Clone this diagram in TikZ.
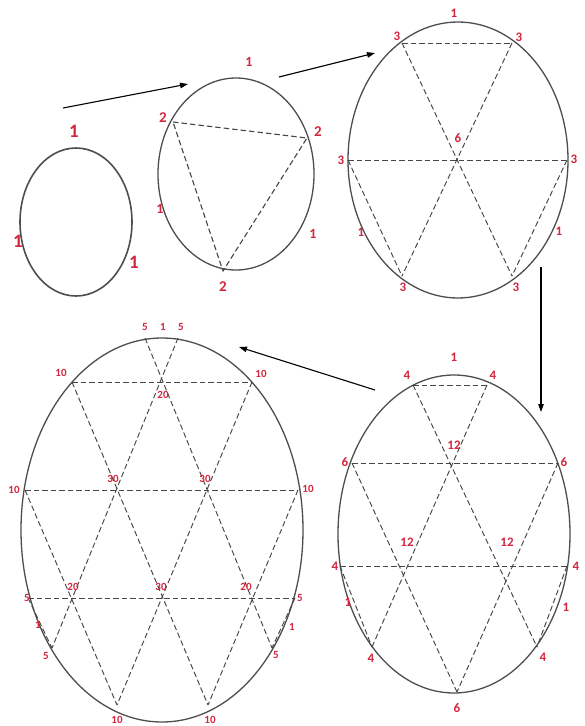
\documentclass[tikz,border=0pt]{standalone}
\usepackage{fontspec}
\setmainfont{Carlito}
\usetikzlibrary{arrows.meta,shapes.geometric}
\definecolor{lblred}{RGB}{212,38,62}
\definecolor{edgegray}{RGB}{78,78,78}
\definecolor{dashgray}{RGB}{70,70,70}
\begin{document}
\begin{tikzpicture}[x=1pt,y=-1pt,
  oval/.style={draw=edgegray, ellipse, line width=1.3pt, inner sep=0pt, outer sep=0pt},
  grid/.style={draw=dashgray, dash pattern=on 5.5pt off 3pt, line width=0.95pt},
  lbl/.style={text=lblred, inner sep=0pt, font=\bfseries\fontsize{#1}{#1}\selectfont},
  lbl/.default=12,
  conn/.style={-{Triangle[length=8pt,width=5.5pt]}, line width=1.1pt, black}]
\fill[white] (0,0) rectangle (585,726);
\useasboundingbox (0,0) rectangle (585,726);

% ---------- ellipse 1 ----------
\node[oval, line width=1.6pt, minimum width=112pt, minimum height=148pt] (e1) at (76,222) {};
\node[lbl=19] (e1t) at (74,131) {1};
\node[lbl=19] (e1l) at (18,241) {1};
\node[lbl=19] (e1r) at (134,262) {1};

% ---------- ellipse 2 ----------
\node[oval, minimum width=156pt, minimum height=192pt] (e2) at (236,174) {};
\coordinate (b1) at (173,122);
\coordinate (b2) at (307,138);
\coordinate (b3) at (223,271);
\draw[grid, line width=1.1pt] (b1) -- (b2) -- (b3) -- cycle;
\node[lbl=15] (e2a) at (163,118) {2};
\node[lbl=15] (e2b) at (318,132) {2};
\node[lbl=15] (e2c) at (223,287) {2};
\node[lbl=14] (e2t) at (249,62) {1};
\node[lbl=14] (e2l) at (160,209) {1};
\node[lbl=14] (e2r) at (313,234) {1};

% ---------- ellipse 3 ----------
\node[oval, minimum width=220pt, minimum height=276pt] (e3) at (458,160) {};
\coordinate (c1) at (402,43);
\coordinate (c2) at (512,43);
\coordinate (c3) at (348,160);
\coordinate (c4) at (567,160);
\coordinate (c5) at (402,276);
\coordinate (c6) at (512,276);
\draw[grid] (c1) -- (c2);
\draw[grid] (c3) -- (c4);
\draw[grid] (c1) -- (c6);
\draw[grid] (c2) -- (c5);
\draw[grid] (c3) -- (c5);
\draw[grid] (c4) -- (c6);
\node[lbl=13] (e3t) at (454,13) {1};
\node[lbl=13] (e3a) at (397,36) {3};
\node[lbl=13] (e3b) at (519,37) {3};
\node[lbl=13] (e3c) at (458,138) {6};
\node[lbl=13] (e3d) at (341,160) {3};
\node[lbl=13] (e3e) at (574,159) {3};
\node[lbl=13] (e3f) at (361,232) {1};
\node[lbl=13] (e3g) at (559,231) {1};
\node[lbl=13] (e3h) at (403,287) {3};
\node[lbl=13] (e3i) at (516,287) {3};

% ---------- ellipse 4 ----------
\node[oval, minimum width=232pt, minimum height=318pt] (e4) at (454,534) {};
\coordinate (d1) at (413,385);
\coordinate (d2) at (487,385);
\coordinate (d3) at (352,463);
\coordinate (d4) at (558,463);
\coordinate (d5) at (340,566);
\coordinate (d6) at (567,566);
\coordinate (d7) at (372,647);
\coordinate (d8) at (537,647);
\coordinate (d9) at (457,692);
\draw[grid] (d1) -- (d2);
\draw[grid] (d3) -- (d4);
\draw[grid] (d5) -- (d6);
\draw[grid] (d1) -- (d8);
\draw[grid] (d2) -- (d7);
\draw[grid] (d3) -- (d9);
\draw[grid] (d4) -- (d9);
\draw[grid] (d5) -- (d7);
\draw[grid] (d6) -- (d8);
\node[lbl=13] (e4t) at (454,357) {1};
\node[lbl=13] (e4a) at (407,375) {4};
\node[lbl=13] (e4b) at (493,375) {4};
\node[lbl=13] (e4c) at (454,445) {12};
\node[lbl=13] (e4d) at (345,462) {6};
\node[lbl=13] (e4e) at (564,462) {6};
\node[lbl=13] (e4f) at (407,542) {12};
\node[lbl=13] (e4g) at (507,542) {12};
\node[lbl=13] (e4h) at (335,566) {4};
\node[lbl=13] (e4i) at (576,566) {4};
\node[lbl=13] (e4j) at (348,602) {1};
\node[lbl=13] (e4k) at (566,607) {1};
\node[lbl=13] (e4l) at (371,658) {4};
\node[lbl=13] (e4m) at (543,657) {4};
\node[lbl=13] (e4n) at (457,708) {6};

% ---------- ellipse 5 ----------
\node[oval, minimum width=282pt, minimum height=384pt] (e5) at (162,530) {};
\coordinate (f1) at (145,338);
\coordinate (f2) at (178,338);
\coordinate (f3) at (72,382);
\coordinate (f4) at (252,382);
\coordinate (f5) at (25,490);
\coordinate (f6) at (298,490);
\coordinate (f7) at (28,598);
\coordinate (f8) at (295,598);
\coordinate (f9) at (52,648);
\coordinate (f10) at (272,648);
\coordinate (f11) at (117,705);
\coordinate (f12) at (208,705);
\draw[grid] (f3) -- (f4);
\draw[grid] (f5) -- (f6);
\draw[grid] (f7) -- (f8);
\draw[grid] (f1) -- (f10);
\draw[grid] (f3) -- (f12);
\draw[grid] (f5) -- (f11);
\draw[grid] (f7) -- (f9);
\draw[grid] (f2) -- (f9);
\draw[grid] (f4) -- (f11);
\draw[grid] (f6) -- (f12);
\draw[grid] (f8) -- (f10);
\node[lbl=11] (e5a) at (145,327) {5};
\node[lbl=11] (e5b) at (163,327) {1};
\node[lbl=11] (e5c) at (181,327) {5};
\node[lbl=11] (e5d) at (61,373) {10};
\node[lbl=11] (e5e) at (261,374) {10};
\node[lbl=11] (e5f) at (163,395) {20};
\node[lbl=11] (e5g) at (14,490) {10};
\node[lbl=11] (e5h) at (308,489) {10};
\node[lbl=11] (e5i) at (113,479) {30};
\node[lbl=11] (e5j) at (205,479) {30};
\node[lbl=11] (e5k) at (27,598) {5};
\node[lbl=11] (e5l) at (73,587) {20};
\node[lbl=11] (e5m) at (161,587) {30};
\node[lbl=11] (e5n) at (246,587) {20};
\node[lbl=11] (e5o) at (300,598) {5};
\node[lbl=11] (e5p) at (38,625) {1};
\node[lbl=11] (e5q) at (292,627) {1};
\node[lbl=11] (e5r) at (46,656) {5};
\node[lbl=11] (e5s) at (276,655) {5};
\node[lbl=11] (e5t) at (117,720) {10};
\node[lbl=11] (e5u) at (210,720) {10};

% ---------- arrows ----------
\coordinate (a1s) at (63,108);
\coordinate (a1e) at (188,84);
\coordinate (a2s) at (279,77);
\coordinate (a2e) at (375,53);
\coordinate (a3s) at (541,267);
\coordinate (a3e) at (541,412);
\coordinate (a4s) at (375,390);
\coordinate (a4e) at (239,347);
\draw[conn] (a1s) -- (a1e);
\draw[conn] (a2s) -- (a2e);
\draw[conn] (a3s) -- (a3e);
\draw[conn] (a4s) -- (a4e);
\end{tikzpicture}
\end{document}
